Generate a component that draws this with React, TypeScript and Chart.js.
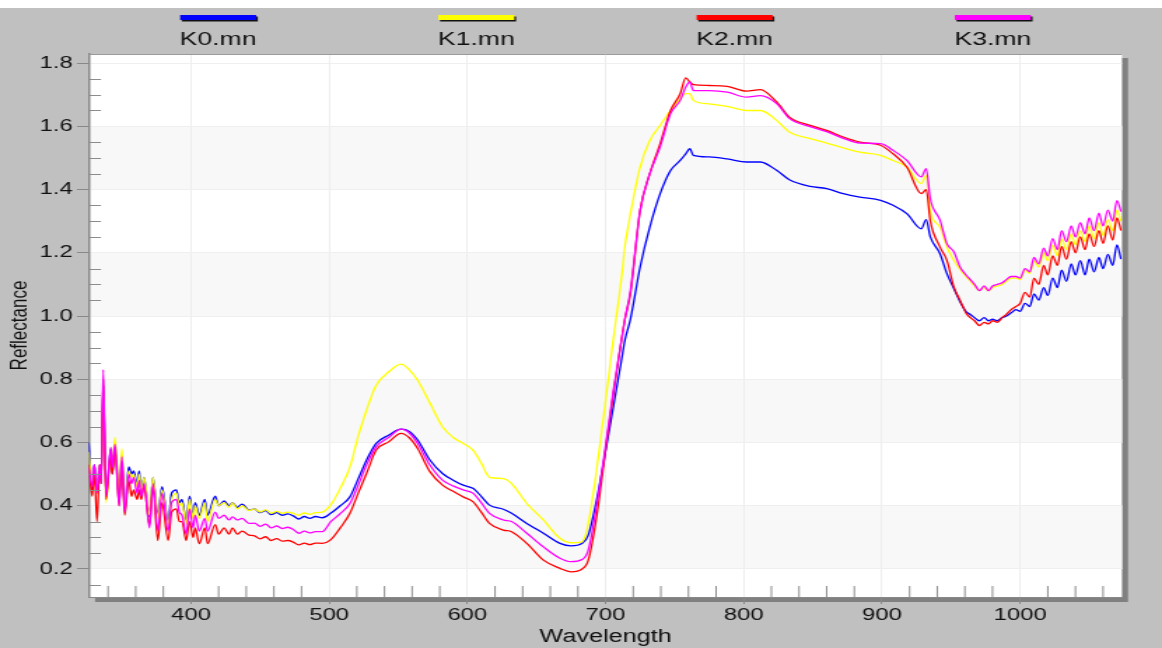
import React, { useEffect, useRef } from "react";
import { Chart, registerables } from "chart.js";

Chart.register(...registerables);

// ---------- data ----------
const WAVELENGTH = [
  326, 328.5, 330, 332, 334, 335, 336.5, 338.5, 342, 343,
  345, 348, 350, 352, 355, 357, 358.5, 361, 362.5, 364,
  366, 370, 372.5, 376, 379, 383.5, 386, 389.5, 391.5, 393.5,
  396.5, 399, 401.5, 403, 406, 410, 412, 417.5, 420, 424,
  427.5, 430, 433.5, 437, 442,
  446, 450, 454, 458, 462, 466, 470, 474, 478, 482, 486, 490, 495,
  501, 508, 515, 521, 527, 534, 543, 552, 558, 564,
  573, 582, 590, 597, 604, 610, 616, 626, 632, 643,
  655, 667, 675, 683, 687.5, 693.5, 701, 705.5, 711.5, 714,
  718, 725, 732, 739.5, 747, 754, 758, 761, 763.5, 775,
  788, 802, 812, 824, 833, 848, 860, 872, 884, 899,
  908, 918, 928.5, 932, 935, 942, 947, 952, 956.5, 961,
  964, 967, 970.5, 974, 977, 980, 983.5, 987, 990, 993.5,
  997, 1000, 1003.5, 1007, 1010, 1013.5, 1017, 1020, 1023.5, 1027,
  1030, 1033.5, 1037, 1040, 1043.5, 1047, 1050, 1053.5, 1057, 1060,
  1063.5, 1067, 1070, 1073,
];

const K0 = [
  0.60, 0.45, 0.53, 0.46, 0.53, 0.47, 0.78, 0.43, 0.58, 0.50,
  0.60, 0.43, 0.56, 0.40, 0.523, 0.50, 0.51, 0.47, 0.51, 0.45,
  0.49, 0.365, 0.49, 0.37, 0.46, 0.35, 0.44, 0.45, 0.41, 0.42,
  0.35, 0.43, 0.37, 0.41, 0.37, 0.42, 0.37, 0.43, 0.40, 0.415,
  0.40, 0.41, 0.395, 0.405, 0.386,
  0.39, 0.378, 0.385, 0.372, 0.378, 0.37, 0.374, 0.368, 0.358, 0.366, 0.36, 0.366, 0.362,
  0.376, 0.40, 0.428, 0.485, 0.544, 0.597, 0.623, 0.642, 0.635, 0.608,
  0.544, 0.502, 0.48, 0.465, 0.455, 0.43, 0.402, 0.389, 0.376, 0.344,
  0.313, 0.281, 0.273, 0.281, 0.307, 0.418, 0.597, 0.71, 0.86, 0.924,
  0.99, 1.155, 1.281, 1.387, 1.46, 1.492, 1.513, 1.529, 1.508, 1.503,
  1.497, 1.487, 1.487, 1.46, 1.431, 1.41, 1.403, 1.387, 1.376, 1.366,
  1.35, 1.324, 1.276, 1.305, 1.25, 1.197, 1.134, 1.087, 1.045, 1.013,
  1.005, 0.995, 0.985, 0.995, 0.985, 0.99, 0.985, 0.995, 1.00, 1.01,
  1.02, 1.015, 1.04, 1.03, 1.07, 1.05, 1.09, 1.065, 1.12, 1.09,
  1.145, 1.11, 1.165, 1.13, 1.175, 1.13, 1.18, 1.14, 1.185, 1.15,
  1.195, 1.16, 1.225, 1.18,
];

const K1 = [
  0.57, 0.46, 0.52, 0.45, 0.53, 0.47, 0.76, 0.41, 0.57, 0.51,
  0.616, 0.44, 0.58, 0.39, 0.51, 0.49, 0.50, 0.46, 0.50, 0.44,
  0.49, 0.37, 0.49, 0.36, 0.45, 0.34, 0.42, 0.44, 0.40, 0.41,
  0.34, 0.42, 0.36, 0.40, 0.36, 0.41, 0.35, 0.42, 0.40, 0.41,
  0.395, 0.41, 0.39, 0.40, 0.385,
  0.39, 0.38, 0.387, 0.376, 0.382, 0.376, 0.38, 0.376, 0.37, 0.377, 0.373, 0.378, 0.38,
  0.402, 0.455, 0.523, 0.62, 0.702, 0.781, 0.823, 0.848, 0.83, 0.797,
  0.724, 0.65, 0.615, 0.597, 0.576, 0.535, 0.49, 0.486, 0.47, 0.407,
  0.355, 0.297, 0.283, 0.286, 0.344, 0.513, 0.766, 0.924, 1.12, 1.22,
  1.324, 1.471, 1.555, 1.603, 1.65, 1.687, 1.703, 1.703, 1.682, 1.671,
  1.663, 1.65, 1.65, 1.618, 1.582, 1.561, 1.547, 1.532, 1.518, 1.508,
  1.492, 1.471, 1.419, 1.445, 1.33, 1.281, 1.218, 1.176, 1.147, 1.124,
  1.11, 1.095, 1.08, 1.09, 1.08, 1.09, 1.095, 1.10, 1.11, 1.12,
  1.12, 1.115, 1.145, 1.135, 1.175, 1.155, 1.20, 1.175, 1.225, 1.19,
  1.245, 1.21, 1.26, 1.225, 1.27, 1.235, 1.285, 1.245, 1.295, 1.255,
  1.305, 1.27, 1.335, 1.30,
];

const K2 = [
  0.53, 0.43, 0.51, 0.35, 0.53, 0.47, 0.80, 0.42, 0.56, 0.50,
  0.58, 0.40, 0.54, 0.37, 0.48, 0.43, 0.45, 0.42, 0.45, 0.42,
  0.46, 0.34, 0.46, 0.29, 0.41, 0.29, 0.38, 0.39, 0.35, 0.35,
  0.29, 0.35, 0.30, 0.33, 0.28, 0.33, 0.28, 0.34, 0.31, 0.33,
  0.31, 0.33, 0.31, 0.32, 0.307,
  0.305, 0.295, 0.302, 0.29, 0.296, 0.288, 0.29, 0.285, 0.276, 0.282, 0.277, 0.282, 0.281,
  0.292, 0.33, 0.376, 0.44, 0.502, 0.576, 0.602, 0.629, 0.615, 0.581,
  0.507, 0.465, 0.445, 0.428, 0.413, 0.38, 0.344, 0.323, 0.318, 0.281,
  0.228, 0.202, 0.191, 0.20, 0.228, 0.365, 0.61, 0.75, 0.924, 0.99,
  1.071, 1.334, 1.45, 1.545, 1.65, 1.703, 1.753, 1.74, 1.732, 1.729,
  1.726, 1.711, 1.716, 1.676, 1.629, 1.603, 1.587, 1.566, 1.55, 1.54,
  1.513, 1.471, 1.387, 1.40, 1.30, 1.218, 1.176, 1.092, 1.05, 1.008,
  0.995, 0.985, 0.97, 0.98, 0.975, 0.985, 0.98, 0.995, 1.005, 1.02,
  1.03, 1.04, 1.075, 1.06, 1.12, 1.10, 1.16, 1.13, 1.19, 1.16,
  1.22, 1.18, 1.235, 1.20, 1.25, 1.21, 1.26, 1.22, 1.27, 1.23,
  1.285, 1.24, 1.31, 1.27,
];

const K3 = [
  0.52, 0.46, 0.53, 0.44, 0.53, 0.47, 0.83, 0.43, 0.585, 0.52,
  0.595, 0.40, 0.555, 0.38, 0.50, 0.47, 0.49, 0.44, 0.48, 0.43,
  0.47, 0.33, 0.47, 0.32, 0.44, 0.32, 0.41, 0.42, 0.38, 0.37,
  0.31, 0.39, 0.33, 0.37, 0.32, 0.36, 0.32, 0.38, 0.36, 0.37,
  0.355, 0.365, 0.355, 0.36, 0.344,
  0.345, 0.335, 0.342, 0.33, 0.336, 0.328, 0.332, 0.325, 0.313, 0.32, 0.314, 0.318, 0.318,
  0.349, 0.375, 0.407, 0.465, 0.529, 0.586, 0.616, 0.642, 0.63, 0.597,
  0.528, 0.481, 0.462, 0.45, 0.44, 0.41, 0.376, 0.355, 0.35, 0.313,
  0.27, 0.234, 0.223, 0.23, 0.26, 0.40, 0.62, 0.76, 0.924, 0.99,
  1.08, 1.334, 1.45, 1.535, 1.64, 1.682, 1.724, 1.74, 1.713, 1.713,
  1.708, 1.692, 1.697, 1.671, 1.625, 1.599, 1.583, 1.562, 1.547, 1.545,
  1.524, 1.492, 1.44, 1.466, 1.37, 1.303, 1.229, 1.203, 1.155, 1.129,
  1.115, 1.10, 1.08, 1.095, 1.08, 1.095, 1.10, 1.105, 1.115, 1.125,
  1.125, 1.12, 1.15, 1.14, 1.185, 1.165, 1.215, 1.19, 1.245, 1.21,
  1.27, 1.235, 1.285, 1.25, 1.295, 1.26, 1.31, 1.27, 1.325, 1.285,
  1.335, 1.30, 1.365, 1.33,
];

const SERIES_NAMES = ["K0.mn", "K1.mn", "K2.mn", "K3.mn"];
const SERIES_VALUES = [K0, K1, K2, K3];
const SERIES_COLORS = ["#0000ff", "#ffff00", "#ff0000", "#ff00ff"];
const SERIES_ORDER = [3, 2, 1, 0];

const X_TICKS = [400, 500, 600, 700, 800, 900, 1000];
const Y_TICKS = [0.2, 0.4, 0.6, 0.8, 1.0, 1.2, 1.4, 1.6, 1.8];
const Y_BANDS = [[0.2, 0.4], [0.6, 0.8], [1.0, 1.2], [1.4, 1.6]];

const X_MIN = 326.2;
const X_MAX = 1073.7;
const Y_MIN = 0.1114;
const Y_MAX = 1.8286;

// ---------- layout (canvas is drawn narrow and stretched horizontally) ----------
const OUT_W = 1162;
const OUT_H = 648;
const SX = 1.4;
const W = Math.round(OUT_W / SX);
const H = OUT_H;
const FONT = "'Liberation Sans', Arial, sans-serif";

const decorPlugin = {
  id: "decor",
  beforeDraw(chart: any) {
    const { ctx, chartArea: a, scales } = chart;
    const y = scales.y;
    ctx.save();
    ctx.fillStyle = "#ffffff";
    ctx.fillRect(0, 0, chart.width, 8);
    ctx.fillStyle = "#c0c0c0";
    ctx.fillRect(0, 8, chart.width, chart.height - 8);
    // drop shadow
    ctx.fillStyle = "#808080";
    ctx.fillRect(a.left + 4.3, a.top + 4, a.right - a.left, a.bottom - a.top + 1);
    // plot background
    ctx.fillStyle = "#ffffff";
    ctx.fillRect(a.left, a.top, a.right - a.left, a.bottom - a.top);
    ctx.fillStyle = "#f8f8f8";
    for (const [lo, hi] of Y_BANDS) {
      const y1 = y.getPixelForValue(hi);
      const y2 = y.getPixelForValue(lo);
      ctx.fillRect(a.left, y1, a.right - a.left, y2 - y1);
    }
    ctx.restore();
  },
  afterDraw(chart: any) {
    const { ctx, chartArea: a, scales } = chart;
    const x = scales.x;
    const y = scales.y;
    ctx.save();
    // top border
    ctx.strokeStyle = "#9a9a9a";
    ctx.lineWidth = 1;
    ctx.beginPath();
    ctx.moveTo(a.left, a.top + 0.5);
    ctx.lineTo(a.right, a.top + 0.5);
    ctx.stroke();
    // minor ticks
    ctx.strokeStyle = "#8c8c8c";
    ctx.lineWidth = 1;
    ctx.beginPath();
    for (let i = 3; i <= 36; i++) {
      const v = i * 0.05;
      if (i % 4 === 0) continue;
      const py = Math.round(y.getPixelForValue(v)) + 0.5;
      if (py < a.top || py > a.bottom) continue;
      ctx.moveTo(a.left, py);
      ctx.lineTo(a.left + 8.6, py);
    }
    for (let w = 340; w <= 1060; w += 20) {
      if (w % 100 === 0) continue;
      const px = x.getPixelForValue(w);
      ctx.moveTo(px, a.bottom);
      ctx.lineTo(px, a.bottom - 11);
    }
    ctx.stroke();
    // legend
    const barW = 76 / SX;
    const plotW = a.right - a.left;
    ctx.font = `19px ${FONT}`;
    ctx.textAlign = "center";
    ctx.textBaseline = "alphabetic";
    SERIES_NAMES.forEach((name, i) => {
      const cx = a.left + plotW * (0.125 + 0.25 * i);
      ctx.fillStyle = "#111111";
      ctx.fillRect(cx - barW / 2 + 1.2, 16.5, barW, 5);
      ctx.fillStyle = SERIES_COLORS[i];
      ctx.fillRect(cx - barW / 2, 15, barW, 5);
      ctx.fillStyle = "#111111";
      ctx.fillText(name, cx, 45);
    });
    ctx.restore();
  },
};

export default function App() {
  const ref = useRef<HTMLCanvasElement | null>(null);

  useEffect(() => {
    const canvas = ref.current;
    if (!canvas) return;
    const chart = new Chart(canvas, {
      type: "line",
      data: {
        datasets: SERIES_VALUES.map((vals, i) => ({
          label: SERIES_NAMES[i],
          data: WAVELENGTH.map((w, j) => ({ x: w, y: vals[j] })),
          borderColor: SERIES_COLORS[i],
          backgroundColor: SERIES_COLORS[i],
          borderWidth: 1.3,
          pointRadius: 0,
          cubicInterpolationMode: "monotone",
          fill: false,
          order: SERIES_ORDER[i],
        })),
      },
      options: {
        responsive: false,
        animation: false,
        devicePixelRatio: 1,
        layout: { padding: { top: 54, right: W - 1122 / SX, left: 0, bottom: 0 } },
        plugins: {
          legend: { display: false },
          tooltip: { enabled: false },
          title: { display: false },
        },
        scales: {
          x: {
            type: "linear",
            min: X_MIN,
            max: X_MAX,
            afterBuildTicks: (s: any) => {
              s.ticks = X_TICKS.map((v) => ({ value: v }));
            },
            afterFit: (s: any) => {
              s.height = 51;
            },
            ticks: {
              autoSkip: false,
              maxRotation: 0,
              padding: 1,
              color: "#111111",
              font: { family: FONT, size: 17 },
              callback: (v: any) => String(v),
            },
            grid: {
              color: "#eeeeee",
              lineWidth: 1,
              drawTicks: true,
              tickLength: 7,
              tickColor: "#888888",
            },
            border: { display: true, color: "#888888", width: 1 },
            title: {
              display: true,
              text: "Wavelength",
              color: "#111111",
              font: { family: FONT, size: 18 },
              padding: { top: 0, bottom: 0 },
            },
          },
          y: {
            type: "linear",
            min: Y_MIN,
            max: Y_MAX,
            afterBuildTicks: (s: any) => {
              s.ticks = Y_TICKS.map((v) => ({ value: v }));
            },
            afterFit: (s: any) => {
              s.width = 89 / SX;
            },
            ticks: {
              padding: 3,
              color: "#111111",
              font: { family: FONT, size: 17 },
              callback: (v: any) => Number(v).toFixed(1),
            },
            grid: {
              color: "#efefef",
              lineWidth: 1,
              drawTicks: true,
              tickLength: 8.6,
              tickColor: "#888888",
            },
            border: { display: true, color: "#888888", width: 1.5 },
            title: {
              display: true,
              text: "Reflectance",
              color: "#111111",
              font: { family: FONT, size: 17 },
              padding: { top: 4, bottom: 0 },
            },
          },
        },
      } as any,
      plugins: [decorPlugin],
    });
    return () => chart.destroy();
  }, []);

  return (
    <div style={{ position: "absolute", left: 0, top: 0, width: OUT_W, height: OUT_H, overflow: "hidden" }}>
      <canvas
        ref={ref}
        width={W}
        height={H}
        style={{ width: `${OUT_W}px`, height: `${OUT_H}px`, display: "block" }}
      />
    </div>
  );
}
